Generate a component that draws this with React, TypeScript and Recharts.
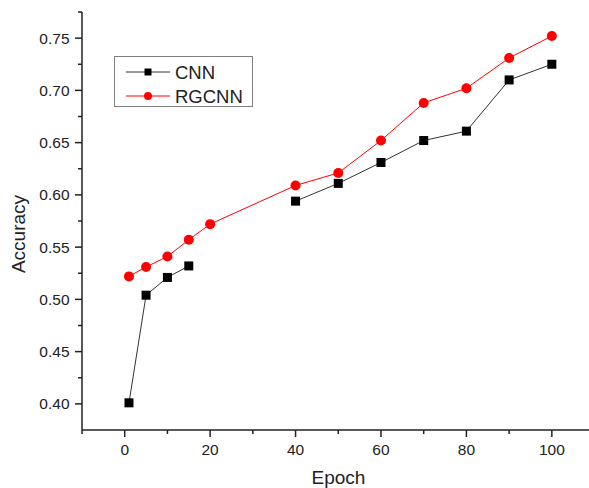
import React from 'react';
import { LineChart, Line, XAxis, YAxis, Legend } from 'recharts';

const epochs = [1, 5, 10, 15, 20, 40, 50, 60, 70, 80, 90, 100];
const cnnValues = [0.401, 0.504, 0.521, 0.532, null, 0.594, 0.611, 0.631, 0.652, 0.661, 0.71, 0.725];
const rgcnnValues = [0.522, 0.531, 0.541, 0.557, 0.572, 0.609, 0.621, 0.652, 0.688, 0.702, 0.731, 0.752];

const xTicks = [-10, 0, 10, 20, 30, 40, 50, 60, 70, 80, 90, 100];
const xMajor = [0, 20, 40, 60, 80, 100];
const yTicks = [0.4, 0.425, 0.45, 0.475, 0.5, 0.525, 0.55, 0.575, 0.6, 0.625, 0.65, 0.675, 0.7, 0.725, 0.75, 0.775];
const yMajor = [0.4, 0.45, 0.5, 0.55, 0.6, 0.65, 0.7, 0.75];

const data = epochs.map((e, i) => ({ epoch: e, CNN: cnnValues[i], RGCNN: rgcnnValues[i] }));

const FONT = '"Liberation Sans", Arial, sans-serif';
const AXIS = '#222';

const isMajor = (list: number[], v: number) => list.some((m) => Math.abs(m - v) < 1e-6);

const XTick = (props: any) => {
  const { x, y, payload } = props;
  const major = isMajor(xMajor, payload.value);
  return (
    <g>
      <line x1={x} x2={x} y1={y} y2={y + (major ? 7 : 4)} stroke={AXIS} strokeWidth={1.5} />
      {major && (
        <text x={x} y={y + 25} textAnchor="middle" fontSize={15.5} fontFamily={FONT} fill={AXIS}>
          {payload.value}
        </text>
      )}
    </g>
  );
};

const YTick = (props: any) => {
  const { x, y, payload } = props;
  const major = isMajor(yMajor, payload.value);
  return (
    <g>
      <line x1={x} x2={x - (major ? 7 : 4)} y1={y} y2={y} stroke={AXIS} strokeWidth={1.5} />
      {major && (
        <text x={x - 12.5} y={y + 5.5} textAnchor="end" fontSize={15.5} fontFamily={FONT} fill={AXIS}>
          {Number(payload.value).toFixed(2)}
        </text>
      )}
    </g>
  );
};

const SquareDot = (props: any) => {
  const { cx, cy, index } = props;
  if (cx == null || cy == null || isNaN(cy)) return <g key={`s-${index}`} />;
  return <rect key={`s-${index}`} x={cx - 4.5} y={cy - 4.5} width={9} height={9} fill="#000" />;
};

const CircleDot = (props: any) => {
  const { cx, cy, index } = props;
  if (cx == null || cy == null || isNaN(cy)) return <g key={`c-${index}`} />;
  return <circle key={`c-${index}`} cx={cx} cy={cy} r={5} fill="#ff0000" />;
};

const renderLegend = (props: any) => {
  const payload = props.payload || [];
  return (
    <div style={{ width: 139, height: 51, border: '1px solid #808080', boxSizing: 'border-box', background: '#fff' }}>
      <svg width={137} height={49} style={{ display: 'block' }}>
        {payload.map((entry: any, i: number) => {
          const cy = 15 + i * 24;
          const isCnn = entry.value === 'CNN';
          return (
            <g key={entry.value}>
              <line x1={11} x2={55} y1={cy} y2={cy} stroke={isCnn ? '#333' : '#ff0000'} strokeWidth={1} />
              {isCnn ? (
                <rect x={29.5} y={cy - 3.5} width={7} height={7} fill="#000" />
              ) : (
                <circle cx={33} cy={cy} r={4} fill="#ff0000" />
              )}
              <text x={60} y={cy + 6.6} fontSize={18.5} fontFamily={FONT} fill={AXIS}>
                {entry.value}
              </text>
            </g>
          );
        })}
      </svg>
    </div>
  );
};

export default function App() {
  return (
    <div style={{ position: 'absolute', left: 0, top: 0, width: 589, height: 488, background: '#fff' }}>
      <LineChart width={589} height={488} data={data} margin={{ top: 12, right: 0, left: 0, bottom: 0 }}>
        <XAxis
          dataKey="epoch"
          type="number"
          domain={[-10, 108.7]}
          ticks={xTicks}
          interval={0}
          allowDataOverflow
          height={58}
          tickSize={0}
          tickMargin={0}
          tickLine={false}
          axisLine={{ stroke: AXIS, strokeWidth: 1.5 }}
          tick={<XTick />}
          label={{
            value: 'Epoch',
            content: (p: any) => {
              const vb = p.viewBox || {};
              return (
                <text x={vb.x + vb.width / 2 + 3} y={484} textAnchor="middle" fontSize={19} fontFamily={FONT} fill={AXIS}>
                  Epoch
                </text>
              );
            },
          }}
        />
        <YAxis
          type="number"
          domain={[0.375, 0.775]}
          ticks={yTicks}
          interval={0}
          allowDataOverflow
          width={82}
          tickSize={0}
          tickMargin={0}
          tickLine={false}
          axisLine={{ stroke: AXIS, strokeWidth: 1.5 }}
          tick={<YTick />}
          label={{
            value: 'Accuracy',
            content: () => (
              <text
                x={25}
                y={234}
                transform="rotate(-90 25 234)"
                textAnchor="middle"
                fontSize={19}
                fontFamily={FONT}
                fill={AXIS}
              >
                Accuracy
              </text>
            ),
          }}
        />
        <Legend
          layout="vertical"
          align="center"
          verticalAlign="middle"
          content={renderLegend}
          wrapperStyle={{ position: 'absolute', left: 114, top: 56, width: 139, height: 51 }}
        />
        <Line
          dataKey="CNN"
          name="CNN"
          stroke="#333"
          strokeWidth={1}
          dot={<SquareDot />}
          activeDot={false}
          connectNulls={false}
          isAnimationActive={false}
        />
        <Line
          dataKey="RGCNN"
          name="RGCNN"
          stroke="#ff0000"
          strokeWidth={1}
          dot={<CircleDot />}
          activeDot={false}
          isAnimationActive={false}
        />
      </LineChart>
    </div>
  );
}
